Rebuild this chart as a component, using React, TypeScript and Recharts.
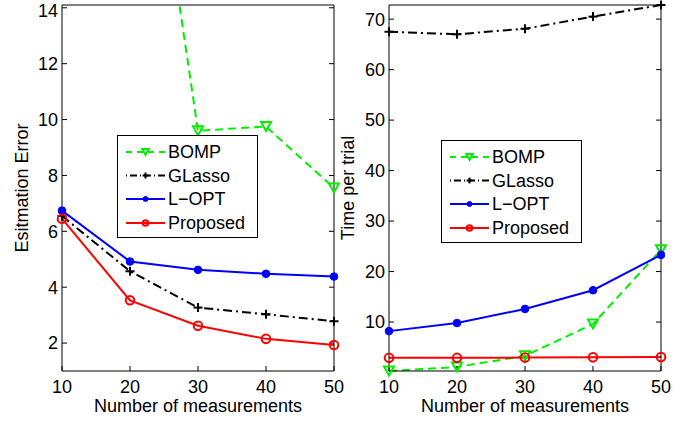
import React from 'react';
import { LineChart, Line, XAxis, YAxis, Legend } from 'recharts';

// ---- data ----
const measurements = [10, 20, 30, 40, 50];
const xTicks = [10, 20, 30, 40, 50];
const errorTicks = [2, 4, 6, 8, 10, 12, 14];
const timeTicks = [10, 20, 30, 40, 50, 60, 70];

const bompError = [35, 26.1, 9.6, 9.75, 7.55];
const glassoError = [6.55, 4.57, 3.27, 3.03, 2.78];
const loptError = [6.74, 4.92, 4.62, 4.48, 4.38];
const proposedError = [6.45, 3.53, 2.62, 2.15, 1.93];

const bompTime = [0.3, 1.1, 3.3, 9.6, 24.3];
const glassoTime = [67.5, 67.0, 68.1, 70.5, 72.8];
const loptTime = [8.2, 9.8, 12.6, 16.3, 23.3];
const proposedTime = [2.9, 2.9, 2.95, 3.0, 3.05];

const seriesNames = ['BOMP', 'GLasso', 'L\u2212OPT', 'Proposed'];

const errorData = measurements.map((m, i) => ({
  m,
  bomp: bompError[i],
  glasso: glassoError[i],
  lopt: loptError[i],
  proposed: proposedError[i],
}));

const timeData = measurements.map((m, i) => ({
  m,
  bomp: bompTime[i],
  glasso: glassoTime[i],
  lopt: loptTime[i],
  proposed: proposedTime[i],
}));

// ---- styles ----
const FONT = '"Liberation Sans", Arial, Helvetica, sans-serif';
const GREEN = '#00ee00';
const BLACK = '#000000';
const BLUE = '#0000ff';
const RED = '#ff0000';

type Kind = 'tri' | 'plus' | 'dot' | 'circle';

const series: { key: string; name: string; color: string; dash?: string; kind: Kind }[] = [
  { key: 'bomp', name: seriesNames[0], color: GREEN, dash: '8 5', kind: 'tri' },
  { key: 'glasso', name: seriesNames[1], color: BLACK, dash: '9 4 2 4', kind: 'plus' },
  { key: 'lopt', name: seriesNames[2], color: BLUE, kind: 'dot' },
  { key: 'proposed', name: seriesNames[3], color: RED, kind: 'circle' },
];

function MarkerShape({ kind, cx, cy, color, s = 1 }: { kind: Kind; cx: number; cy: number; color: string; s?: number }) {
  if (cx == null || cy == null || isNaN(cx) || isNaN(cy)) return null;
  if (kind === 'tri') {
    const w = 5 * s;
    const h = 4.5 * s;
    return (
      <polygon
        points={`${cx - w},${cy - h} ${cx + w},${cy - h} ${cx},${cy + h}`}
        fill="none"
        stroke={color}
        strokeWidth={2}
        strokeLinejoin="miter"
      />
    );
  }
  if (kind === 'plus') {
    const a = 4.5 * s;
    return (
      <g stroke={color} strokeWidth={2}>
        <line x1={cx - a} y1={cy} x2={cx + a} y2={cy} />
        <line x1={cx} y1={cy - a} x2={cx} y2={cy + a} />
      </g>
    );
  }
  if (kind === 'dot') {
    return <circle cx={cx} cy={cy} r={3.8 * s} fill={color} stroke={color} strokeWidth={1} />;
  }
  return <circle cx={cx} cy={cy} r={4.3 * s} fill="none" stroke={color} strokeWidth={2} />;
}

function SeriesDot(props: any) {
  const { cx, cy, kind, color } = props;
  return <MarkerShape kind={kind} cx={cx} cy={cy} color={color} />;
}

function LegendBox() {
  const rows = [23, 46.5, 70, 94];
  return (
    <svg width={141} height={103} style={{ display: 'block', overflow: 'visible' }}>
      <rect x={0.5} y={0.5} width={140} height={102} fill="#fff" stroke="#000" strokeWidth={1} />
      {series.map((s, i) => {
        const y = rows[i] - 6;
        return (
          <g key={s.key}>
            <line
              x1={9}
              x2={48}
              y1={y}
              y2={y}
              stroke={s.color}
              strokeWidth={2}
              strokeDasharray={s.kind === 'tri' ? '6 5' : s.kind === 'plus' ? '1 3 7 3' : undefined}
            />
            <MarkerShape kind={s.kind} cx={28.5} cy={y} color={s.color} s={0.65} />
            <text x={51} y={rows[i]} fontFamily={FONT} fontSize={18} fill="#000">
              {s.name}
            </text>
          </g>
        );
      })}
    </svg>
  );
}

const tickStyle = { fill: '#000', fontSize: 18, fontFamily: FONT };
const axisLineStyle = { stroke: '#000', strokeWidth: 1 };

function Panel({
  data,
  yDomain,
  yTicks,
  clip,
  width,
  margin,
  yTitle,
  yTitleX,
  xTitleX,
  legendPos,
}: any) {
  return (
    <LineChart width={width} height={424} data={data} margin={margin}>
      <XAxis
        dataKey="m"
        type="number"
        domain={[10, 50]}
        ticks={xTicks}
        height={35}
        tick={tickStyle}
        tickSize={-5}
        tickMargin={14}
        axisLine={axisLineStyle}
        tickLine={axisLineStyle}
        label={{
          content: () => (
            <text x={xTitleX} y={412} textAnchor="middle" fontFamily={FONT} fontSize={18} fill="#000">
              Number of measurements
            </text>
          ),
        }}
      />
      <XAxis
        xAxisId="top"
        orientation="top"
        type="number"
        domain={[10, 50]}
        ticks={xTicks}
        height={1}
        tickSize={-5}
        tickFormatter={() => ''}
        axisLine={axisLineStyle}
        tickLine={axisLineStyle}
        allowDataOverflow
      />
      <YAxis
        type="number"
        domain={yDomain}
        ticks={yTicks}
        width={40}
        tick={tickStyle}
        tickSize={-5}
        tickMargin={9}
        axisLine={axisLineStyle}
        tickLine={axisLineStyle}
        allowDataOverflow={clip}
        label={{
          content: () => (
            <text
              x={yTitleX}
              y={188}
              textAnchor="middle"
              fontFamily={FONT}
              fontSize={18}
              fill="#000"
              transform={`rotate(-90, ${yTitleX}, 188)`}
            >
              {yTitle}
            </text>
          ),
        }}
      />
      <YAxis
        yAxisId="right"
        orientation="right"
        type="number"
        domain={yDomain}
        ticks={yTicks}
        width={1}
        tickSize={-5}
        tickFormatter={() => ''}
        axisLine={axisLineStyle}
        tickLine={axisLineStyle}
        allowDataOverflow
      />
      {series.map((s) => (
        <Line
          key={s.key}
          dataKey={s.key}
          name={s.name}
          type="linear"
          stroke={s.color}
          strokeWidth={2}
          strokeDasharray={s.dash}
          dot={<SeriesDot kind={s.kind} color={s.color} r={6} />}
          activeDot={false}
          isAnimationActive={false}
        />
      ))}
      <Legend
        layout="vertical"
        align="center"
        verticalAlign="middle"
        content={() => <LegendBox />}
        wrapperStyle={{ left: legendPos[0], top: legendPos[1], width: 141, height: 103, lineHeight: 0 }}
      />
    </LineChart>
  );
}

export default function App() {
  return (
    <div style={{ position: 'absolute', left: 0, top: 0, width: 689, height: 424, background: '#fff' }}>
      <div style={{ position: 'absolute', left: 0, top: 0 }}>
        <Panel
          data={errorData}
          yDomain={[1, 14.1]}
          yTicks={errorTicks}
          clip={true}
          width={345}
          margin={{ top: 4, right: 10, bottom: 18, left: 22 }}
          yTitle="Esitmation Error"
          yTitleX={28}
          xTitleX={198}
          legendPos={[117, 135]}
        />
      </div>
      <div style={{ position: 'absolute', left: 335, top: 0 }}>
        <Panel
          data={timeData}
          yDomain={[0.3, 72.8]}
          yTicks={timeTicks}
          clip={false}
          width={354}
          margin={{ top: 4, right: 27, bottom: 18, left: 14 }}
          yTitle="Time per trial"
          yTitleX={19}
          xTitleX={190}
          legendPos={[106, 140]}
        />
      </div>
    </div>
  );
}
